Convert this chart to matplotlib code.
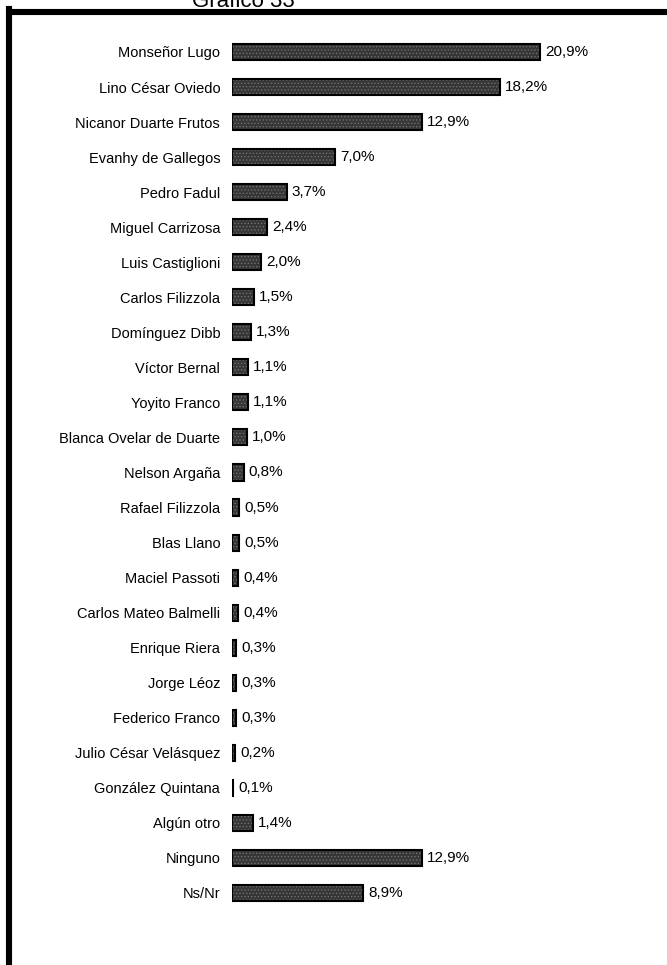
import matplotlib
matplotlib.use('Agg')
import matplotlib.pyplot as plt
from matplotlib.lines import Line2D

# Candidates and share of mentions (%)
candidates = [
    'Monseñor Lugo', 'Lino César Oviedo', 'Nicanor Duarte Frutos',
    'Evanhy de Gallegos', 'Pedro Fadul', 'Miguel Carrizosa',
    'Luis Castiglioni', 'Carlos Filizzola', 'Domínguez Dibb',
    'Víctor Bernal', 'Yoyito Franco', 'Blanca Ovelar de Duarte',
    'Nelson Argaña', 'Rafael Filizzola', 'Blas Llano', 'Maciel Passoti',
    'Carlos Mateo Balmelli', 'Enrique Riera', 'Jorge Léoz',
    'Federico Franco', 'Julio César Velásquez', 'González Quintana',
    'Algún otro', 'Ninguno', 'Ns/Nr',
]
values = [20.9, 18.2, 12.9, 7.0, 3.7, 2.4, 2.0, 1.5, 1.3, 1.1, 1.1, 1.0,
          0.8, 0.5, 0.5, 0.4, 0.4, 0.3, 0.3, 0.3, 0.2, 0.1, 1.4, 12.9, 8.9]
title = 'Gráfico 33'

plt.rcParams['font.family'] = ['Liberation Sans', 'DejaVu Sans']
plt.rcParams['hatch.linewidth'] = 0.6

W, H = 667, 965
fig = plt.figure(figsize=(W / 100, H / 100), dpi=100)
fig.patch.set_facecolor('white')

# axes: x=0 at pixel 232, 14.74 px per percent
left_px = 232
ppu = 14.74
ax = fig.add_axes([left_px / W, 0, 1 - left_px / W, 1])
ax.set_xlim(0, (W - left_px) / ppu)
y0, step = 52, 35.04
ax.set_ylim((H - y0) / step, -y0 / step)

pos = list(range(len(candidates)))
# dotted fill
ax.barh(pos, values, height=0.46, color='#363636', edgecolor='#707070',
        linewidth=0, hatch='.....')
# outline
ax.barh(pos, values, height=0.46, fill=False, edgecolor='black', linewidth=1.5)

for p, v in zip(pos, values):
    ax.text(v + 5 / ppu, p, f'{v:.1f}%'.replace('.', ','), va='center',
            ha='left', fontsize=11, color='black')

ax.set_yticks(pos)
ax.set_yticklabels(candidates, fontsize=10.5)
ax.tick_params(axis='y', length=0, pad=8.5)
ax.set_xticks([])
for s in ax.spines.values():
    s.set_visible(False)
ax.patch.set_alpha(0)

# black frame (left and top)
fig.add_artist(Line2D([9 / W, 9 / W], [0, 1 - 9 / H], color='black',
                      linewidth=4.4, solid_capstyle='projecting',
                      transform=fig.transFigure))
fig.add_artist(Line2D([9 / W, 1], [1 - 12 / H, 1 - 12 / H], color='black',
                      linewidth=4.4, solid_capstyle='butt',
                      transform=fig.transFigure))

# title, mostly cut off at the top edge (as in the source image)
fig.text(243 / W, 1 - 7 / H, title, ha='center', va='baseline', fontsize=16)

fig.savefig('out.png', dpi=100)
